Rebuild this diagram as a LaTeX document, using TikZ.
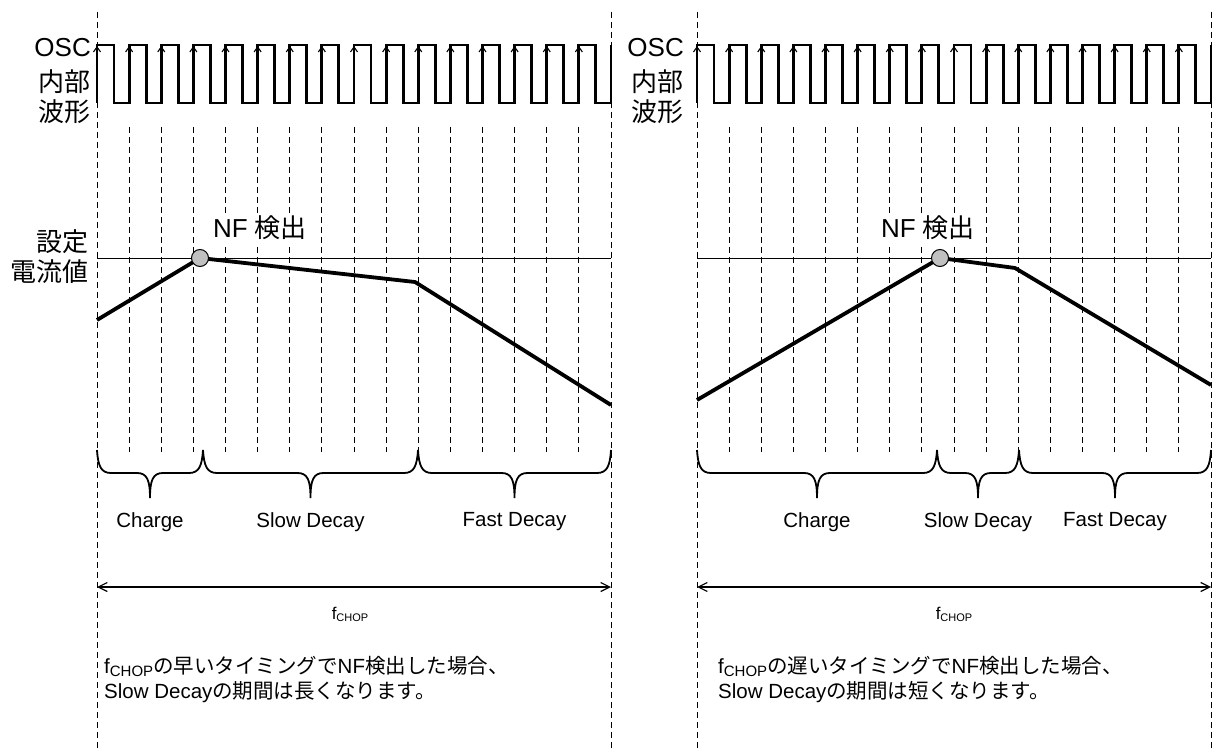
\documentclass[tikz,border=0pt]{standalone}
\usepackage{fontspec}
\setmainfont{Liberation Sans}
\newfontfamily\jp{Noto Sans CJK JP}
\usetikzlibrary{arrows.meta, calc}
\definecolor{dotgray}{RGB}{192,192,192}

% curly brace between two x positions (pixels)
\newcommand{\curly}[2]{%
  \pgfmathsetmacro{\bmid}{(#1+#2)/2}%
  \draw[brc] (#1,450) .. controls (#1+1,466) and (#1+4,473) .. (#1+14,473)
    -- (\bmid-13,473) .. controls (\bmid-3,473) and (\bmid,480) .. (\bmid,498)
    .. controls (\bmid,480) and (\bmid+3,473) .. (\bmid+13,473)
    -- (#2-14,473) .. controls (#2-4,473) and (#2-1,466) .. (#2,450);%
}

\begin{document}
\begin{tikzpicture}[x=1pt, y=-1pt]
\tikzset{guide/.style={dash pattern=on 6pt off 4pt, line width=1pt}}
\tikzset{clk/.style={line width=2.8pt, line join=miter}}
\tikzset{risetip/.style={line width=1.1pt, -{Straight Barb[length=5pt,width=7pt]}}}
\tikzset{cur/.style={line width=3.8pt, line join=round}}
\tikzset{level/.style={line width=0.9pt}}
\tikzset{brc/.style={line width=1.8pt}}
\tikzset{span/.style={line width=1.2pt, {Straight Barb[length=9pt,width=9pt]}-{Straight Barb[length=9pt,width=9pt]}}}
\tikzset{nfdot/.style={draw, circle, fill=dotgray, minimum size=17pt, inner sep=0pt, line width=1pt}}
\tikzset{big/.style={font=\fontsize{26}{30}\selectfont, inner sep=0pt}}
\tikzset{mid/.style={font=\fontsize{20.5}{25}\selectfont, inner sep=0pt}}
\tikzset{fchop/.style={font=\fontsize{17}{17}\selectfont, inner sep=0pt}}

\useasboundingbox (0,0) rectangle (1212,751);

%% Left: early NF detection
\begin{scope}
    \draw[guide] (97,12) -- (97,751);
    \draw[guide] (611,12) -- (611,751);
    \foreach \k in {1,...,15}
        \draw[guide] ({97+32.125*\k},127) -- ({97+32.125*\k},452);

    \draw[clk] (97,103) foreach \k in {0,...,15} {
        -- ({97+32.125*\k},45) -- ({114+32.125*\k},45)
        -- ({114+32.125*\k},103) -- ({129.125+32.125*\k},103) } -- (611,45);
    \foreach \k in {0,...,15}
        \draw[risetip] ({97+32.125*\k},64) -- ({97+32.125*\k},46);

    \node[big, anchor=east] (oscL) at (91,48) {OSC};
    \node[big, anchor=east] (inL) at (91,82) {\jp 内部};
    \node[big, anchor=east] (wvL) at (91,112) {\jp 波形};
    \node[big, anchor=east] (setL) at (89,242) {\jp 設定};
    \node[big, anchor=east] (valL) at (89,272) {\jp 電流値};

    \draw[level] (97,258) -- (611,258);
    \coordinate (pkL) at (200,258);
    \draw[cur] (97,320) -- (pkL) -- (415,282) -- (611,405);
    \node[nfdot] (dotL) at (pkL) {};
    \node[big, fill=white, inner sep=3pt] (nfL) at (260,228) {NF {\jp 検出}};

    \curly{97}{203}
    \curly{203}{418}
    \curly{418}{611}
    \node[mid] (chgL) at (150,522) {Charge};
    \node[mid] (slowL) at (310.5,522) {Slow Decay};
    \node[mid] (fastL) at (514.5,522) {Fast Decay};

    \coordinate (saL) at (97,587);
    \coordinate (sbL) at (611,587);
    \draw[span] (saL) -- (sbL);
    \node[fchop] (fL) at (350,614) {f\raisebox{-2pt}{\fontsize{11}{11}\selectfont CHOP}};

    \node[mid, anchor=west, align=left] (noteL) at (104,680)
        {f\raisebox{-3pt}{\fontsize{15}{15}\selectfont CHOP}{\jp の早いタイミングで}NF{\jp 検出した場合、}\\
         Slow Decay{\jp の期間は長くなります。}};
\end{scope}

%% Right: late NF detection
\begin{scope}[xshift=600pt]
    \draw[guide] (97,12) -- (97,751);
    \draw[guide] (611,12) -- (611,751);
    \foreach \k in {1,...,15}
        \draw[guide] ({97+32.125*\k},127) -- ({97+32.125*\k},452);

    \draw[clk] (97,103) foreach \k in {0,...,15} {
        -- ({97+32.125*\k},45) -- ({114+32.125*\k},45)
        -- ({114+32.125*\k},103) -- ({129.125+32.125*\k},103) } -- (611,45);
    \foreach \k in {0,...,15}
        \draw[risetip] ({97+32.125*\k},64) -- ({97+32.125*\k},46);

    \node[big, anchor=east] (oscR) at (84,48) {OSC};
    \node[big, anchor=east] (inR) at (84,82) {\jp 内部};
    \node[big, anchor=east] (wvR) at (84,112) {\jp 波形};

    \draw[level] (97,258) -- (611,258);
    \coordinate (pkR) at (340,258);
    \draw[cur] (97,400) -- (pkR) -- (415,268) -- (611,385);
    \node[nfdot] (dotR) at (pkR) {};
    \node[big, fill=white, inner sep=3pt] (nfR) at (328,228) {NF {\jp 検出}};

    \curly{97}{337}
    \curly{337}{419}
    \curly{419}{611}
    \node[mid] (chgR) at (217,522) {Charge};
    \node[mid] (slowR) at (378,522) {Slow Decay};
    \node[mid] (fastR) at (515,522) {Fast Decay};

    \coordinate (saR) at (97,587);
    \coordinate (sbR) at (611,587);
    \draw[span] (saR) -- (sbR);
    \node[fchop] (fR) at (354,614) {f\raisebox{-2pt}{\fontsize{11}{11}\selectfont CHOP}};

    \node[mid, anchor=west, align=left] (noteR) at (118,680)
        {f\raisebox{-3pt}{\fontsize{15}{15}\selectfont CHOP}{\jp の遅いタイミングで}NF{\jp 検出した場合、}\\
         Slow Decay{\jp の期間は短くなります。}};
\end{scope}

\end{tikzpicture}
\end{document}
